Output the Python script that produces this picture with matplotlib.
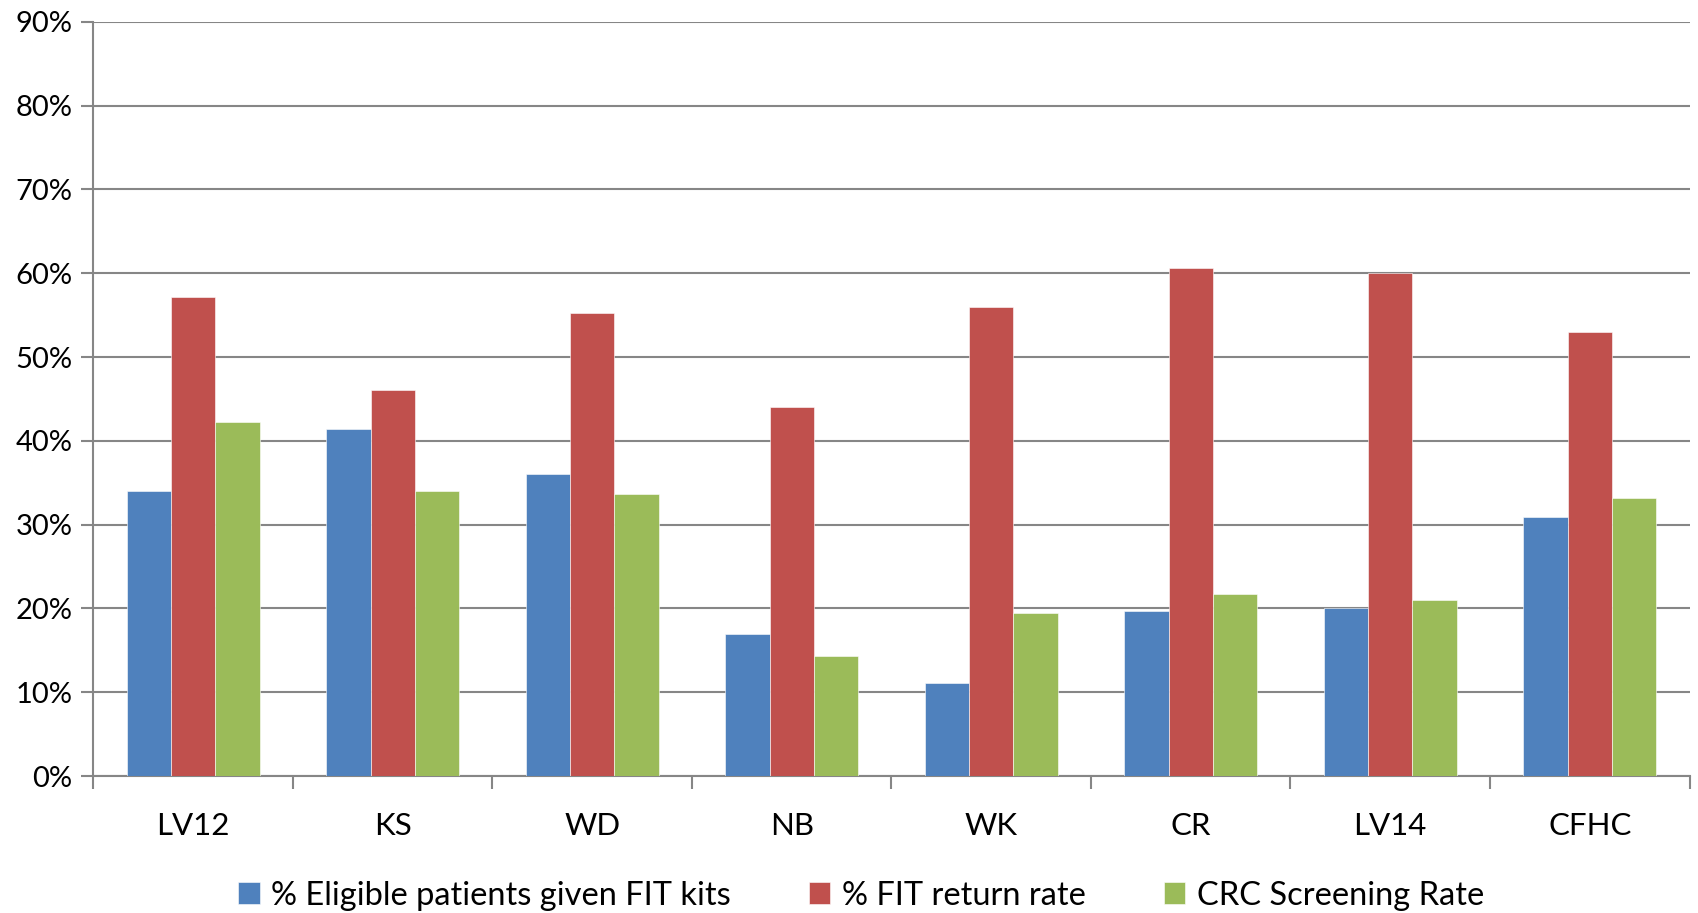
import numpy as np
import matplotlib.pyplot as plt
from matplotlib.ticker import FixedLocator

plt.rcParams['font.family'] = ['Lato', 'DejaVu Sans']

sites = ['LV12', 'KS', 'WD', 'NB', 'WK', 'CR', 'LV14', 'CFHC']
given_kits = [34.0, 41.4, 36.0, 16.9, 11.1, 19.7, 20.1, 30.9]
return_rate = [57.2, 46.1, 55.3, 44.0, 56.0, 60.6, 60.0, 53.0]
screening = [42.3, 34.0, 33.7, 14.3, 19.4, 21.7, 21.0, 33.2]

labels = ['% Eligible patients given FIT kits', '% FIT return rate', 'CRC Screening Rate']
colors = ['#4F81BD', '#C0504D', '#9BBB59']

fig = plt.figure(figsize=(16.98, 9.13), dpi=100)
ax = fig.add_axes([0.055, 0.15, 0.94, 0.826])

x = np.arange(len(sites))
w = 0.222
for i, (vals, lab, c) in enumerate(zip([given_kits, return_rate, screening], labels, colors)):
    ax.bar(x + (i - 1) * w, vals, w, color=c, label=lab, edgecolor='white', linewidth=0.4, zorder=3)

grid_c = '#868686'
ax.set_ylim(0, 90)
ax.set_xlim(-0.5, len(sites) - 0.5)
ax.set_yticks(np.arange(0, 91, 10))
ax.set_yticklabels([f'{v}%' for v in range(0, 91, 10)], fontsize=21)
ax.yaxis.grid(True, color=grid_c, linewidth=1.5, zorder=0)

ax.set_xticks(x)
ax.set_xticklabels(sites, fontsize=22.5)
ax.xaxis.set_minor_locator(FixedLocator(np.arange(-0.5, len(sites), 1.0)))
ax.tick_params(axis='x', which='major', length=0, pad=26)
ax.tick_params(axis='x', which='minor', length=9, color=grid_c, width=1.5)
ax.tick_params(axis='y', length=9, color=grid_c, width=1.5, pad=6)

for s in ['top', 'right']:
    ax.spines[s].set_visible(False)
for s in ['left', 'bottom']:
    ax.spines[s].set_color(grid_c)
    ax.spines[s].set_linewidth(1.5)

ax.legend(loc='upper center', bbox_to_anchor=(0.481, -0.1), ncol=3, frameon=False,
          fontsize=23.5, handlelength=0.65, handleheight=0.65, handletextpad=0.35, columnspacing=2.4)

fig.savefig('out.png', dpi=100)
